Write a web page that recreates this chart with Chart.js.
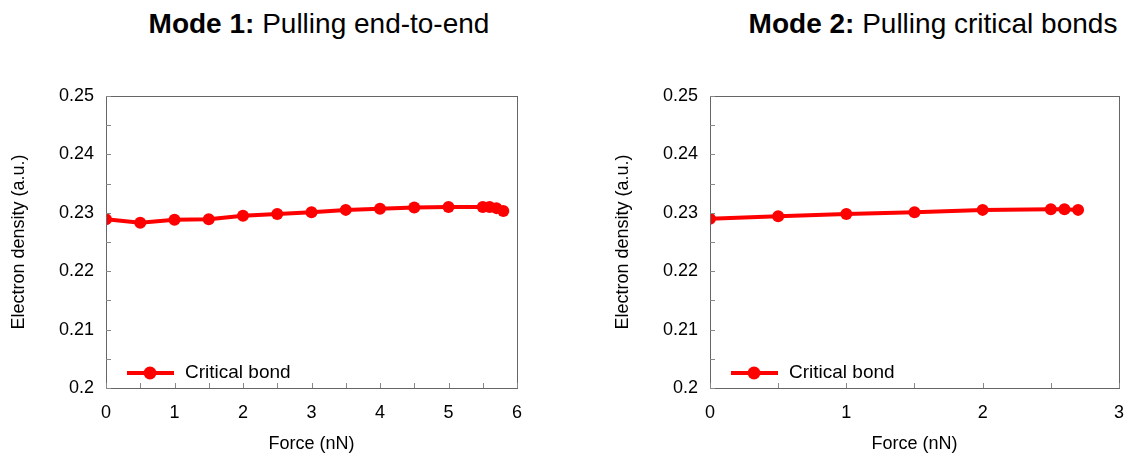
<!DOCTYPE html>
<html>
<head>
<meta charset="utf-8">
<script src="https://cdn.jsdelivr.net/npm/chart.js@4/dist/chart.umd.min.js"></script>
<style>
  body { margin: 0; background: #fff; font-family: "Liberation Sans", Arial, sans-serif; }
  #wrap { position: relative; width: 1128px; height: 455px; overflow: hidden; }
  .title { position: absolute; top: 10px; font-size: 28px; line-height: 28px; white-space: nowrap; color: #000; transform: translateX(-50%); }
  .box { position: absolute; top: 0; height: 455px; }
</style>
</head>
<body>
<div id="wrap">
  <div class="title" style="left:319px"><b>Mode 1:</b> Pulling end-to-end</div>
  <div class="title" style="left:933px"><b>Mode 2:</b> Pulling critical bonds</div>
  <div class="box" style="left:0;width:560px"><canvas id="c1"></canvas></div>
  <div class="box" style="left:604px;width:534px"><canvas id="c2"></canvas></div>
</div>
<script>
// mode 1: pulling end-to-end
const force1 = [0, 0.5, 1, 1.5, 2, 2.5, 3, 3.5, 4, 4.5, 5, 5.5, 5.6, 5.7, 5.8];
const density1 = [0.2289, 0.2283, 0.2288, 0.2289, 0.2295, 0.2298, 0.2301, 0.2305, 0.2307, 0.2309, 0.2310, 0.2310, 0.2310, 0.2308, 0.2303];

// mode 2: pulling critical bonds
const force2 = [0, 0.5, 1, 1.5, 2, 2.5, 2.6, 2.7];
const density2 = [0.2290, 0.2294, 0.2298, 0.2301, 0.2305, 0.2306, 0.2306, 0.2305];

const yTicks = [0.2, 0.21, 0.22, 0.23, 0.24, 0.25];
const yTickLabels = ['0.2', '0.21', '0.22', '0.23', '0.24', '0.25'];
const yMinor = [0.205, 0.215, 0.225, 0.235, 0.245];
const xTicks1 = [0, 1, 2, 3, 4, 5, 6];
const xMinor1 = [0.5, 1.5, 2.5, 3.5, 4.5, 5.5];
const xTicks2 = [0, 1, 2, 3];
const xMinor2 = [0.5, 1.5, 2.5];

const seriesName = 'Critical bond';
const red = '#ff0000';
const fontFam = '"Liberation Sans", Arial, sans-serif';

// frame + inward ticks + legend inside the plot
const framePlugin = {
  id: 'frame',
  afterDraw(chart, args, opts) {
    const ctx = chart.ctx;
    const a = chart.chartArea;
    const xs = chart.scales.x, ys = chart.scales.y;
    ctx.save();
    ctx.strokeStyle = '#666';
    ctx.lineWidth = 1;
    ctx.strokeRect(a.left + 0.5, a.top + 0.5, a.right - a.left, a.bottom - a.top);
    ctx.strokeStyle = '#888';
    ctx.beginPath();
    opts.xMajor.concat(opts.xMinor).forEach(v => {
      const px = Math.round(xs.getPixelForValue(v)) + 0.5;
      ctx.moveTo(px, a.bottom);
      ctx.lineTo(px, a.bottom - 5);
    });
    yTicks.concat(yMinor).forEach(v => {
      const py = Math.round(ys.getPixelForValue(v)) + 0.5;
      ctx.moveTo(a.left, py);
      ctx.lineTo(a.left + 5, py);
    });
    ctx.stroke();

    // legend
    const ly = a.bottom - 15;
    ctx.strokeStyle = red;
    ctx.lineWidth = 4;
    ctx.beginPath();
    ctx.moveTo(a.left + 21, ly);
    ctx.lineTo(a.left + 68, ly);
    ctx.stroke();
    ctx.fillStyle = red;
    ctx.beginPath();
    ctx.arc(a.left + 44, ly, 6.5, 0, Math.PI * 2);
    ctx.fill();
    ctx.fillStyle = '#000';
    ctx.font = '19px ' + fontFam;
    ctx.textBaseline = 'middle';
    ctx.fillText(seriesName, a.left + 79, ly);
    ctx.restore();
  }
};

function makeChart(id, xs, ys, xMax, xMajor, xMinor, rightPad) {
  const pts = xs.map((x, i) => ({ x: x, y: ys[i] }));
  return new Chart(document.getElementById(id), {
    type: 'line',
    data: {
      datasets: [{
        label: seriesName,
        data: pts,
        borderColor: red,
        backgroundColor: red,
        borderWidth: 4,
        pointRadius: 6,
        pointHoverRadius: 6,
        pointBorderWidth: 0,
        tension: 0
      }]
    },
    options: {
      responsive: true,
      maintainAspectRatio: false,
      animation: false,
      events: [],
      layout: { padding: { top: 96, right: rightPad, left: 0, bottom: 0 } },
      plugins: {
        legend: { display: false },
        tooltip: { enabled: false },
        frame: { xMajor: xMajor, xMinor: xMinor }
      },
      scales: {
        x: {
          type: 'linear',
          min: 0,
          max: xMax,
          afterBuildTicks: s => { s.ticks = xMajor.map(v => ({ value: v })); },
          afterFit: s => { s.height = 67; },
          grid: { display: false, drawTicks: false },
          border: { display: false },
          ticks: { color: '#000', font: { size: 18, family: fontFam }, padding: 14, maxRotation: 0 },
          title: { display: true, text: 'Force (nN)', color: '#000', font: { size: 18, family: fontFam }, padding: { top: 0, bottom: 0 } }
        },
        y: {
          min: 0.2,
          max: 0.25,
          afterBuildTicks: s => { s.ticks = yTicks.map(v => ({ value: v })); },
          afterFit: s => { s.width = 106; },
          grid: { display: false, drawTicks: false },
          border: { display: false },
          ticks: {
            color: '#000',
            font: { size: 18, family: fontFam },
            padding: 12,
            callback: (v, i) => yTickLabels[i]
          },
          title: { display: true, text: 'Electron density (a.u.)', color: '#000', font: { size: 18, family: fontFam }, padding: { top: 8, bottom: 0 } }
        }
      }
    },
    plugins: [framePlugin]
  });
}

makeChart('c1', force1, density1, 6, xTicks1, xMinor1, 43);
makeChart('c2', force2, density2, 3, xTicks2, xMinor2, 8);
</script>
</body>
</html>
